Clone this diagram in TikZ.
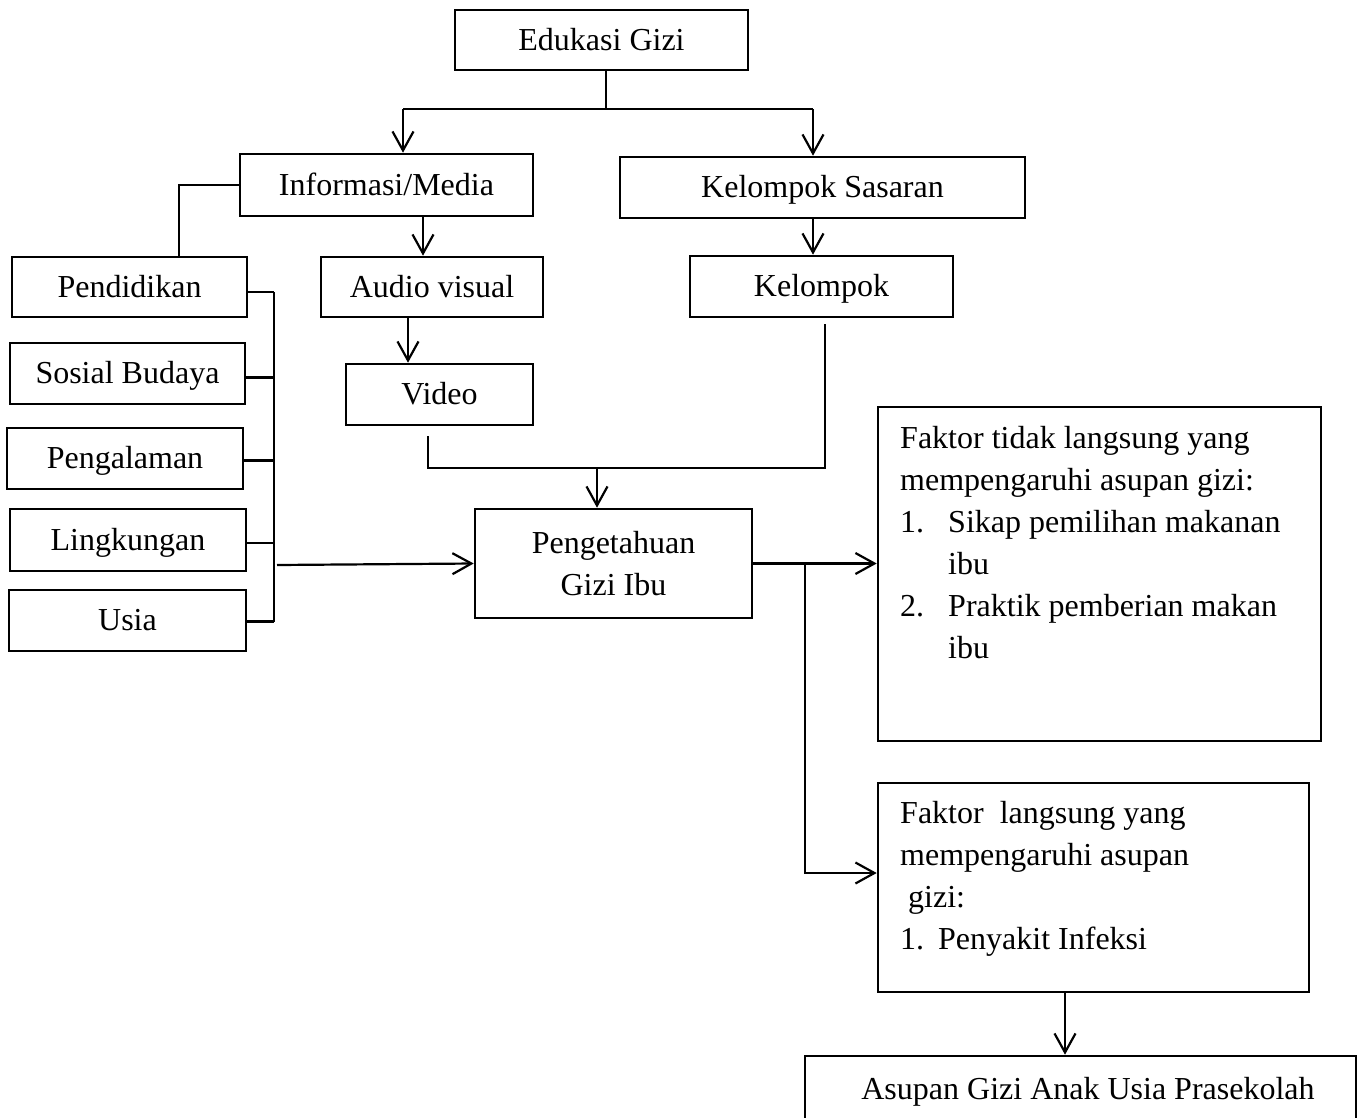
\documentclass[tikz,border=0pt]{standalone}
\usepackage{fontspec}
\setmainfont{Liberation Serif}
\usetikzlibrary{arrows.meta,calc}
\begin{document}
\begin{tikzpicture}[x=1pt,y=-1pt,
  font=\fontsize{32}{42}\selectfont,
  box/.style={draw, line width=2.6pt, inner sep=0pt, text height=24pt, text depth=4pt},
  plainbox/.style={draw, line width=2.6pt, inner sep=0pt},
  conn/.style={line width=2.2pt},
  arr/.style={conn, -{Straight Barb[length=19pt,width=21pt]}},
  txt/.style={inner sep=0pt}]
\useasboundingbox (0,0) rectangle (1358,1117);

% boxes
\node[box, minimum width=293pt, minimum height=60pt] (edu) at (601.5,40) {Edukasi Gizi};
\node[box, minimum width=293pt, minimum height=62pt] (info) at (386.5,185) {Informasi/Media};
\node[box, minimum width=405pt, minimum height=61pt] (ksas) at (822.5,187.5) {Kelompok Sasaran};
\node[box, minimum width=235pt, minimum height=60pt] (pend) at (129.5,287) {Pendidikan};
\node[box, minimum width=222pt, minimum height=60pt] (audio) at (432,287) {Audio visual};
\node[box, minimum width=263pt, minimum height=61pt] (kel) at (821.5,286.5) {Kelompok};
\node[box, minimum width=187pt, minimum height=61pt] (video) at (439.5,394.5) {Video};
\node[box, minimum width=235pt, minimum height=61pt] (sos) at (127.5,373.5) {Sosial Budaya};
\node[box, minimum width=236pt, minimum height=61pt] (peng) at (125,458.5) {Pengalaman};
\node[box, minimum width=236pt, minimum height=62pt] (ling) at (128,540) {Lingkungan};
\node[box, minimum width=237pt, minimum height=61pt] (usia) at (127.5,620.5) {Usia};
\node[plainbox, minimum width=277pt, minimum height=109pt, align=center] (pg) at (613.5,563.5)
  {Pengetahuan\\Gizi Ibu};
\node[plainbox, minimum width=443pt, minimum height=334pt] (ft) at (1099.5,574) {};
\node[plainbox, minimum width=431pt, minimum height=209pt] (fl) at (1093.5,887.5) {};
\node[plainbox, minimum width=551pt, minimum height=74pt] (asup) at (1080.5,1093) {};

% texts in the large boxes
\node[txt, anchor=north west, align=left] (ftt) at (900,426)
  {Faktor tidak langsung yang\\
   mempengaruhi asupan gizi:\\
   \makebox[48pt][l]{1.}Sikap pemilihan makanan\\
   \hspace*{48pt}ibu\\
   \makebox[48pt][l]{2.}Praktik pemberian makan\\
   \hspace*{48pt}ibu};
\node[txt, anchor=north west, align=left] (flt) at (900,801)
  {Faktor\ \ langsung yang\\
   mempengaruhi asupan\\
   \hspace*{8pt}gizi:\\
   \makebox[38pt][l]{1.}Penyakit Infeksi};
\node[txt, anchor=base] (asupt) at (1088,1099) {Asupan Gizi Anak Usia Prasekolah};

% helper coordinates
\coordinate (j1) at (606,109);
\coordinate (xa) at (403,0);
\coordinate (xb) at (813,0);
\coordinate (xp) at (179,0);
\coordinate (xi) at (423,0);
\coordinate (xv) at (408,0);
\coordinate (bx) at (274,0);
\coordinate (vx) at (428,0);
\coordinate (kx) at (825,0);
\coordinate (mj) at (597,468);
\coordinate (bj) at (277,565);
\coordinate (bx2) at (805,0);
\coordinate (ay) at (0,873);
\coordinate (fx) at (1065,0);

% top split
\draw[conn] (edu.south -| j1) -- (j1);
\draw[conn] (xa |- j1) -- (xb |- j1);
\draw[arr] (xa |- j1) -- (xa |- info.north);
\draw[arr] (xb |- j1) -- (xb |- ksas.north);

% info to pendidikan
\draw[conn] (info.west) -| (xp |- pend.north);
% arrows down
\draw[arr] (xi |- info.south) -- (xi |- audio.north);
\draw[arr] (xv |- audio.south) -- (xv |- video.north);
\draw[arr] (xb |- ksas.south) -- (xb |- kel.north);

% bracket of left factors
\draw[conn] ([yshift=-5pt]pend.east) -- ([yshift=-5pt]pend.east -| bx);
\draw[conn] ([yshift=-4pt]sos.east) -- ([yshift=-4pt]sos.east -| bx);
\draw[conn] ([yshift=-2pt]peng.east) -- ([yshift=-2pt]peng.east -| bx);
\draw[conn] ([yshift=-3pt]ling.east) -- ([yshift=-3pt]ling.east -| bx);
\draw[conn] ([yshift=-1pt]usia.east) -- ([yshift=-1pt]usia.east -| bx);
\draw[conn] ([yshift=-5pt]pend.east -| bx) -- ([yshift=-1pt]usia.east -| bx);
\draw[arr] (bj) -- (pg.west);

% video & kelompok to pengetahuan
\draw[conn] ($(vx |- video.south)+(0,10)$) |- (mj) -| ($(kx |- kel.south)+(0,6)$);
\draw[arr] (mj) -- (pg.north -| mj);

% pengetahuan to factors
\draw[arr] (pg.east) -- (pg.east -| ft.west);
\draw[arr] (pg.east -| bx2) |- (fl.west |- ay);
\draw[arr] (fx |- fl.south) -- (fx |- asup.north);
\end{tikzpicture}
\end{document}
